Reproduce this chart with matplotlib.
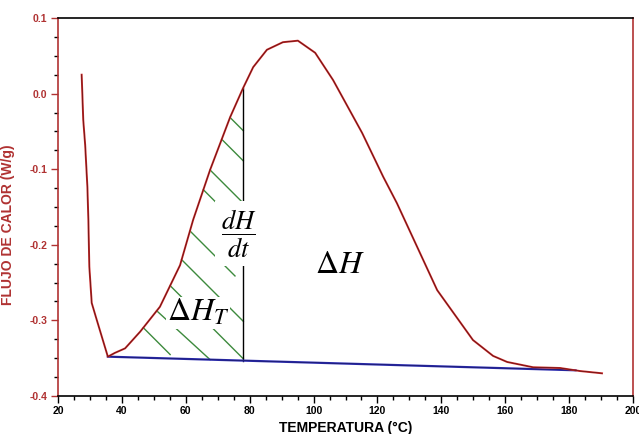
import numpy as np
import matplotlib
matplotlib.use("Agg")
import matplotlib.pyplot as plt
from matplotlib.ticker import MultipleLocator, FormatStrFormatter

plt.rcParams['font.family'] = ['Liberation Sans', 'DejaVu Sans']
plt.rcParams['mathtext.fontset'] = 'stix'
plt.rcParams['axes.unicode_minus'] = False

# curva DSC (temperatura en °C, flujo de calor en W/g)
temp = [27.4, 27.9, 28.5, 29.2, 29.5, 29.8, 30.55, 32.1, 35.6, 37.8, 41.0,
        45.7, 51.9, 58.2, 62.3, 67.6, 73.9, 77.9, 81.1, 85.4, 90.4, 95.1,
        100.5, 106.1, 115.2, 121.8, 126.1, 138.7, 149.9, 156.2, 160.6,
        168.7, 177.2, 183.4, 190.3]
flujo = [0.025, -0.035, -0.068, -0.124, -0.167, -0.229, -0.277, -0.299,
         -0.348, -0.343, -0.337, -0.315, -0.282, -0.227, -0.167, -0.101,
         -0.031, 0.007, 0.035, 0.058, 0.068, 0.070, 0.054, 0.018, -0.052,
         -0.110, -0.145, -0.260, -0.326, -0.347, -0.355, -0.362, -0.363,
         -0.367, -0.370]

# linea base
base_t = [35.6, 182.0]
base_y = [-0.348, -0.366]

# corte en el tiempo t
t_corte = 78.0

# rayado de la zona ΔH_T (inicio sobre la curva, fin)
rayas_t0 = [73.85, 71.25, 67.6, 65.5, 61.3, 58.7, 55.1, 50.9, 46.7]
rayas_t1 = [78.0, 78.0, 77.4, 78.0, 75.4, 78.0, 78.0, 67.6, 55.1]

rojo = '#b03232'
verde = '#3d8a3d'

fig = plt.figure(figsize=(6.39, 4.34), dpi=100)
ax = fig.add_axes([0.0908, 0.0876, 0.8998, 0.8709])

def base(t):
    return np.interp(t, base_t, base_y)

# pendiente de las rayas en unidades de datos (45° en pantalla)
k = (3.194 / 756.0)
for t0, t1 in zip(rayas_t0, rayas_t1):
    y0 = np.interp(t0, temp, flujo)
    y1 = max(y0 - k * (t1 - t0), base(t1))
    ax.plot([t0, t1], [y0, y1], color=verde, lw=1.0, zorder=2)

ax.plot(base_t, base_y, color='#2b2bb0', lw=1.6, zorder=3)
ax.plot(base_t, base_y, color='black', lw=0.4, alpha=0.5, zorder=3)

ax.plot([t_corte, t_corte], [base(t_corte), np.interp(t_corte, temp, flujo)],
        color='black', lw=1.0, zorder=2)

ax.plot(temp, flujo, color='#cc2a2a', lw=1.4, zorder=4)
ax.plot(temp, flujo, color='black', lw=0.5, alpha=0.55, zorder=5)

caja = dict(boxstyle='square,pad=0.25', fc='white', ec='none')
ax.text(76.7, -0.185, r'$\dfrac{dH}{dt}$', fontsize=19, ha='center',
        va='center', bbox=caja, zorder=6)
ax.text(54.1, -0.301, r'$\Delta H_T$', fontsize=23, ha='left',
        va='baseline', zorder=6,
        bbox=dict(boxstyle='square,pad=0.02', fc='white', ec='none'))
ax.text(100.5, -0.237, r'$\Delta H$', fontsize=23, ha='left',
        va='baseline', zorder=6)

ax.set_xlim(20, 200)
ax.set_ylim(-0.4, 0.1)
ax.xaxis.set_major_locator(MultipleLocator(20))
ax.xaxis.set_minor_locator(MultipleLocator(5))
ax.yaxis.set_major_locator(MultipleLocator(0.1))
ax.yaxis.set_minor_locator(MultipleLocator(0.025))
ax.yaxis.set_major_formatter(FormatStrFormatter('%.1f'))

ax.tick_params(which='major', direction='out', length=5, width=1.0, pad=2.5)
ax.tick_params(which='minor', direction='out', length=3, width=1.0)
ax.tick_params(axis='y', which='major', color=rojo, labelcolor=rojo)
for lab in ax.get_xticklabels() + ax.get_yticklabels():
    lab.set_fontsize(7.5)
    lab.set_fontweight('bold')

for lado in ['left', 'right']:
    ax.spines[lado].set_color(rojo)
for lado in ['top', 'bottom']:
    ax.spines[lado].set_color('black')
for sp in ax.spines.values():
    sp.set_linewidth(1.2)

ax.set_xlabel('TEMPERATURA (°C)', fontsize=10, fontweight='bold', labelpad=3)
ax.set_ylabel('FLUJO DE CALOR (W/g)', fontsize=10, fontweight='bold',
              color=rojo)
ax.yaxis.set_label_coords(-0.075, 0.452)

fig.savefig('out.png', dpi=100)
